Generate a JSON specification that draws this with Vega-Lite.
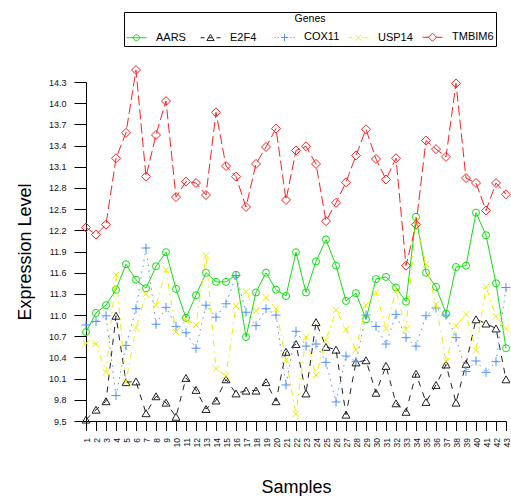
{
  "$schema": "https://vega.github.io/schema/vega-lite/v6.json",
  "width": 420,
  "height": 339,
  "autosize": {"type": "none"},
  "padding": {"left": 86, "top": 82, "right": 5, "bottom": 75},
  "config": {
    "font": "Liberation Sans",
    "view": {"stroke": null},
    "axis": {"grid": false, "domainColor": "#000", "tickColor": "#000", "labelColor": "#111", "titleColor": "#000", "titleFontWeight": "normal", "domainWidth": 1, "tickWidth": 1}
  },
  "datasets": {
    "expr": [
      {"sample":1,"gene":"AARS","value":10.76},{"sample":2,"gene":"AARS","value":11.03},{"sample":3,"gene":"AARS","value":11.14},{"sample":4,"gene":"AARS","value":11.36},{"sample":5,"gene":"AARS","value":11.72},{"sample":6,"gene":"AARS","value":11.50},{"sample":7,"gene":"AARS","value":11.38},{"sample":8,"gene":"AARS","value":11.69},{"sample":9,"gene":"AARS","value":11.89},{"sample":10,"gene":"AARS","value":11.37},
      {"sample":11,"gene":"AARS","value":10.96},{"sample":12,"gene":"AARS","value":11.28},{"sample":13,"gene":"AARS","value":11.60},{"sample":14,"gene":"AARS","value":11.47},{"sample":15,"gene":"AARS","value":11.47},{"sample":16,"gene":"AARS","value":11.57},{"sample":17,"gene":"AARS","value":10.69},{"sample":18,"gene":"AARS","value":11.32},{"sample":19,"gene":"AARS","value":11.60},{"sample":20,"gene":"AARS","value":11.36},
      {"sample":21,"gene":"AARS","value":11.27},{"sample":22,"gene":"AARS","value":11.89},{"sample":23,"gene":"AARS","value":11.32},{"sample":24,"gene":"AARS","value":11.76},{"sample":25,"gene":"AARS","value":12.07},{"sample":26,"gene":"AARS","value":11.70},{"sample":27,"gene":"AARS","value":11.20},{"sample":28,"gene":"AARS","value":11.31},{"sample":29,"gene":"AARS","value":10.94},{"sample":30,"gene":"AARS","value":11.51},
      {"sample":31,"gene":"AARS","value":11.54},{"sample":32,"gene":"AARS","value":11.39},{"sample":33,"gene":"AARS","value":11.19},{"sample":34,"gene":"AARS","value":12.39},{"sample":35,"gene":"AARS","value":11.60},{"sample":36,"gene":"AARS","value":11.40},{"sample":37,"gene":"AARS","value":11.02},{"sample":38,"gene":"AARS","value":11.68},{"sample":39,"gene":"AARS","value":11.70},{"sample":40,"gene":"AARS","value":12.45},
      {"sample":41,"gene":"AARS","value":12.13},{"sample":42,"gene":"AARS","value":11.45},{"sample":43,"gene":"AARS","value":10.53},

      {"sample":1,"gene":"E2F4","value":9.52},{"sample":2,"gene":"E2F4","value":9.66},{"sample":3,"gene":"E2F4","value":9.78},{"sample":4,"gene":"E2F4","value":10.99},{"sample":5,"gene":"E2F4","value":10.05},{"sample":6,"gene":"E2F4","value":10.06},{"sample":7,"gene":"E2F4","value":9.61},{"sample":8,"gene":"E2F4","value":9.85},{"sample":9,"gene":"E2F4","value":9.76},{"sample":10,"gene":"E2F4","value":9.56},
      {"sample":11,"gene":"E2F4","value":10.11},{"sample":12,"gene":"E2F4","value":9.94},{"sample":13,"gene":"E2F4","value":9.67},{"sample":14,"gene":"E2F4","value":9.79},{"sample":15,"gene":"E2F4","value":10.09},{"sample":16,"gene":"E2F4","value":9.89},{"sample":17,"gene":"E2F4","value":9.93},{"sample":18,"gene":"E2F4","value":9.93},{"sample":19,"gene":"E2F4","value":10.05},{"sample":20,"gene":"E2F4","value":9.78},
      {"sample":21,"gene":"E2F4","value":10.48},{"sample":22,"gene":"E2F4","value":10.59},{"sample":23,"gene":"E2F4","value":9.89},{"sample":24,"gene":"E2F4","value":10.90},{"sample":25,"gene":"E2F4","value":10.55},{"sample":26,"gene":"E2F4","value":10.51},{"sample":27,"gene":"E2F4","value":9.59},{"sample":28,"gene":"E2F4","value":10.33},{"sample":29,"gene":"E2F4","value":10.36},{"sample":30,"gene":"E2F4","value":9.90},
      {"sample":31,"gene":"E2F4","value":10.28},{"sample":32,"gene":"E2F4","value":9.75},{"sample":33,"gene":"E2F4","value":9.63},{"sample":34,"gene":"E2F4","value":10.17},{"sample":35,"gene":"E2F4","value":9.77},{"sample":36,"gene":"E2F4","value":10.01},{"sample":37,"gene":"E2F4","value":10.30},{"sample":38,"gene":"E2F4","value":9.76},{"sample":39,"gene":"E2F4","value":10.31},{"sample":40,"gene":"E2F4","value":10.94},
      {"sample":41,"gene":"E2F4","value":10.88},{"sample":42,"gene":"E2F4","value":10.81},{"sample":43,"gene":"E2F4","value":10.09},

      {"sample":1,"gene":"COX11","value":10.86},{"sample":2,"gene":"COX11","value":10.91},{"sample":3,"gene":"COX11","value":10.99},{"sample":4,"gene":"COX11","value":9.86},{"sample":5,"gene":"COX11","value":10.57},{"sample":6,"gene":"COX11","value":11.09},{"sample":7,"gene":"COX11","value":11.95},{"sample":8,"gene":"COX11","value":10.87},{"sample":9,"gene":"COX11","value":11.11},{"sample":10,"gene":"COX11","value":10.84},
      {"sample":11,"gene":"COX11","value":10.75},{"sample":12,"gene":"COX11","value":10.53},{"sample":13,"gene":"COX11","value":11.14},{"sample":14,"gene":"COX11","value":10.97},{"sample":15,"gene":"COX11","value":11.16},{"sample":16,"gene":"COX11","value":11.56},{"sample":17,"gene":"COX11","value":11.04},{"sample":18,"gene":"COX11","value":10.85},{"sample":19,"gene":"COX11","value":11.09},{"sample":20,"gene":"COX11","value":11.00},
      {"sample":21,"gene":"COX11","value":10.01},{"sample":22,"gene":"COX11","value":10.77},{"sample":23,"gene":"COX11","value":10.56},{"sample":24,"gene":"COX11","value":10.59},{"sample":25,"gene":"COX11","value":10.33},{"sample":26,"gene":"COX11","value":9.77},{"sample":27,"gene":"COX11","value":10.42},{"sample":28,"gene":"COX11","value":10.34},{"sample":29,"gene":"COX11","value":11.00},{"sample":30,"gene":"COX11","value":10.84},
      {"sample":31,"gene":"COX11","value":10.59},{"sample":32,"gene":"COX11","value":11.01},{"sample":33,"gene":"COX11","value":10.68},{"sample":34,"gene":"COX11","value":10.56},{"sample":35,"gene":"COX11","value":10.99},{"sample":36,"gene":"COX11","value":11.10},{"sample":37,"gene":"COX11","value":11.00},{"sample":38,"gene":"COX11","value":10.68},{"sample":39,"gene":"COX11","value":10.20},{"sample":40,"gene":"COX11","value":10.35},
      {"sample":41,"gene":"COX11","value":10.19},{"sample":42,"gene":"COX11","value":10.34},{"sample":43,"gene":"COX11","value":11.39},

      {"sample":1,"gene":"USP14","value":10.60},{"sample":2,"gene":"USP14","value":10.59},{"sample":3,"gene":"USP14","value":10.19},{"sample":4,"gene":"USP14","value":11.57},{"sample":5,"gene":"USP14","value":10.05},{"sample":6,"gene":"USP14","value":10.82},{"sample":7,"gene":"USP14","value":11.30},{"sample":8,"gene":"USP14","value":11.14},{"sample":9,"gene":"USP14","value":11.64},{"sample":10,"gene":"USP14","value":10.76},
      {"sample":11,"gene":"USP14","value":10.93},{"sample":12,"gene":"USP14","value":10.86},{"sample":13,"gene":"USP14","value":11.84},{"sample":14,"gene":"USP14","value":10.24},{"sample":15,"gene":"USP14","value":10.14},{"sample":16,"gene":"USP14","value":11.13},{"sample":17,"gene":"USP14","value":11.33},{"sample":18,"gene":"USP14","value":11.06},{"sample":19,"gene":"USP14","value":11.25},{"sample":20,"gene":"USP14","value":11.09},
      {"sample":21,"gene":"USP14","value":10.37},{"sample":22,"gene":"USP14","value":9.60},{"sample":23,"gene":"USP14","value":10.69},{"sample":24,"gene":"USP14","value":10.15},{"sample":25,"gene":"USP14","value":10.65},{"sample":26,"gene":"USP14","value":11.07},{"sample":27,"gene":"USP14","value":10.80},{"sample":28,"gene":"USP14","value":10.51},{"sample":29,"gene":"USP14","value":11.14},{"sample":30,"gene":"USP14","value":11.32},
      {"sample":31,"gene":"USP14","value":10.81},{"sample":32,"gene":"USP14","value":11.35},{"sample":33,"gene":"USP14","value":10.80},{"sample":34,"gene":"USP14","value":12.33},{"sample":35,"gene":"USP14","value":11.72},{"sample":36,"gene":"USP14","value":11.15},{"sample":37,"gene":"USP14","value":10.35},{"sample":38,"gene":"USP14","value":10.85},{"sample":39,"gene":"USP14","value":11.01},{"sample":40,"gene":"USP14","value":10.50},
      {"sample":41,"gene":"USP14","value":11.40},{"sample":42,"gene":"USP14","value":10.98},{"sample":43,"gene":"USP14","value":10.81},

      {"sample":1,"gene":"TMBIM6","value":12.24},{"sample":2,"gene":"TMBIM6","value":12.14},{"sample":3,"gene":"TMBIM6","value":12.28},{"sample":4,"gene":"TMBIM6","value":13.22},{"sample":5,"gene":"TMBIM6","value":13.58},{"sample":6,"gene":"TMBIM6","value":14.47},{"sample":7,"gene":"TMBIM6","value":12.96},{"sample":8,"gene":"TMBIM6","value":13.55},{"sample":9,"gene":"TMBIM6","value":14.03},{"sample":10,"gene":"TMBIM6","value":12.67},
      {"sample":11,"gene":"TMBIM6","value":12.89},{"sample":12,"gene":"TMBIM6","value":12.87},{"sample":13,"gene":"TMBIM6","value":12.70},{"sample":14,"gene":"TMBIM6","value":13.87},{"sample":15,"gene":"TMBIM6","value":13.11},{"sample":16,"gene":"TMBIM6","value":12.96},{"sample":17,"gene":"TMBIM6","value":12.53},{"sample":18,"gene":"TMBIM6","value":13.14},{"sample":19,"gene":"TMBIM6","value":13.38},{"sample":20,"gene":"TMBIM6","value":13.64},
      {"sample":21,"gene":"TMBIM6","value":12.63},{"sample":22,"gene":"TMBIM6","value":13.33},{"sample":23,"gene":"TMBIM6","value":13.39},{"sample":24,"gene":"TMBIM6","value":13.14},{"sample":25,"gene":"TMBIM6","value":12.33},{"sample":26,"gene":"TMBIM6","value":12.59},{"sample":27,"gene":"TMBIM6","value":12.88},{"sample":28,"gene":"TMBIM6","value":13.26},{"sample":29,"gene":"TMBIM6","value":13.63},{"sample":30,"gene":"TMBIM6","value":13.21},
      {"sample":31,"gene":"TMBIM6","value":12.92},{"sample":32,"gene":"TMBIM6","value":13.22},{"sample":33,"gene":"TMBIM6","value":11.70},{"sample":34,"gene":"TMBIM6","value":12.28},{"sample":35,"gene":"TMBIM6","value":13.47},{"sample":36,"gene":"TMBIM6","value":13.35},{"sample":37,"gene":"TMBIM6","value":13.24},{"sample":38,"gene":"TMBIM6","value":14.28},{"sample":39,"gene":"TMBIM6","value":12.94},{"sample":40,"gene":"TMBIM6","value":12.87},
      {"sample":41,"gene":"TMBIM6","value":12.48},{"sample":42,"gene":"TMBIM6","value":12.87},{"sample":43,"gene":"TMBIM6","value":12.71}
    ]
  },
  "data": {"name": "expr"},
  "encoding": {
    "x": {
      "field": "sample", "type": "quantitative",
      "scale": {"domain": [1, 43], "nice": false, "zero": false},
      "axis": {
        "title": "Samples", "titleFontSize": 18, "titlePadding": 32,
        "values": [1,2,3,4,5,6,7,8,9,10,11,12,13,14,15,16,17,18,19,20,21,22,23,24,25,26,27,28,29,30,31,32,33,34,35,36,37,38,39,40,41,42,43],
        "labelAngle": -90, "labelFontSize": 8.5, "labelPadding": 7, "tickSize": 9.5, "labelOverlap": false, "labelFlush": false
      }
    },
    "y": {
      "field": "value", "type": "quantitative",
      "scale": {"domain": [9.5, 14.3], "nice": false, "zero": false},
      "axis": {
        "title": "Expression Level", "titleFontSize": 18, "titlePadding": 14,
        "values": [9.5, 9.8, 10.1, 10.4, 10.7, 11.0, 11.3, 11.6, 11.9, 12.2, 12.5, 12.8, 13.1, 13.4, 13.7, 14.0, 14.3],
        "format": ".1f", "labelFontSize": 9, "labelPadding": 8, "tickSize": 12, "labelOverlap": false, "labelFlush": false
      }
    },
    "color": {
      "field": "gene", "type": "nominal",
      "scale": {
        "domain": ["AARS", "E2F4", "COX11", "USP14", "TMBIM6"],
        "range": ["#10e010", "#222222", "#4f8fff", "#eeee00", "#ff2020"]
      },
      "legend": {
        "title": "Genes", "orient": "none", "legendX": 38, "legendY": -70,
        "direction": "horizontal", "columns": 5, "gridAlign": "all",
        "titleAnchor": "middle", "titleFontSize": 10.5, "titleFontWeight": "normal", "titleColor": "#000", "titlePadding": 2,
        "labelFontSize": 11, "labelColor": "#000", "labelOffset": 9, "columnPadding": 0,
        "symbolType": "circle", "symbolSize": 400, "symbolStrokeWidth": 1, "symbolFillColor": "transparent",
        "padding": 2, "strokeColor": "#000", "fillColor": "#fff",
        "encode": {
          "symbols": {
            "update": {
              "shape": {"signal": "datum.value === 'AARS' ? 'M-1,0H1M-0.3,0A0.3,0.3,0,1,1,0.3,0A0.3,0.3,0,1,1,-0.3,0' : datum.value === 'E2F4' ? 'M-1,0H-0.6M-0.2,0H0.2M0.6,0H1M0,-0.34L0.36,0.28L-0.36,0.28Z' : datum.value === 'COX11' ? 'M-1,0H-0.88M-0.7,0H-0.58M0.58,0H0.7M0.88,0H1M-0.36,0H0.36M0,-0.36V0.36' : datum.value === 'USP14' ? 'M-1,0H-0.62M-0.46,0H-0.38M0.38,0H0.46M0.62,0H1M-0.28,-0.28L0.28,0.28M-0.28,0.28L0.28,-0.28' : 'M-1,0H-0.35M0.35,0H1M0,-0.4L0.4,0L0,0.4L-0.4,0Z'"},
              "size": {"value": 400},
              "fill": {"value": "transparent"},
              "strokeWidth": {"value": 1},
              "strokeDash": {"value": []},
              "opacity": {"value": 1}
            }
          }
        }
      }
    }
  },
  "layer": [
    {"transform": [{"filter": "datum.gene === 'AARS'"}], "mark": {"type": "line", "strokeWidth": 1}},
    {"transform": [{"filter": "datum.gene === 'AARS'"}], "mark": {"type": "point", "shape": "circle", "size": 50, "filled": false, "strokeWidth": 1, "opacity": 1}},
    {"transform": [{"filter": "datum.gene === 'E2F4'"}], "mark": {"type": "line", "strokeWidth": 1, "strokeDash": [6, 6]}},
    {"transform": [{"filter": "datum.gene === 'E2F4'"}], "mark": {"type": "point", "shape": "triangle-up", "size": 64, "filled": false, "strokeWidth": 1, "opacity": 1}},
    {"transform": [{"filter": "datum.gene === 'COX11'"}], "mark": {"type": "line", "strokeWidth": 1, "strokeDash": [1.5, 4.5]}},
    {"transform": [{"filter": "datum.gene === 'COX11'"}], "mark": {"type": "point", "shape": "M-1,0H1M0,-1V1", "size": 81, "filled": false, "strokeWidth": 1, "opacity": 1}},
    {"transform": [{"filter": "datum.gene === 'USP14'"}], "mark": {"type": "line", "strokeWidth": 1, "strokeDash": [1.5, 4.5, 6, 4.5]}},
    {"transform": [{"filter": "datum.gene === 'USP14'"}], "mark": {"type": "point", "shape": "M-1,-1L1,1M-1,1L1,-1", "size": 42, "filled": false, "strokeWidth": 1, "opacity": 1}},
    {"transform": [{"filter": "datum.gene === 'TMBIM6'"}], "mark": {"type": "line", "strokeWidth": 1, "strokeDash": [10, 4]}},
    {"transform": [{"filter": "datum.gene === 'TMBIM6'"}], "mark": {"type": "point", "shape": "diamond", "size": 81, "filled": false, "strokeWidth": 1, "opacity": 1}}
  ]
}
